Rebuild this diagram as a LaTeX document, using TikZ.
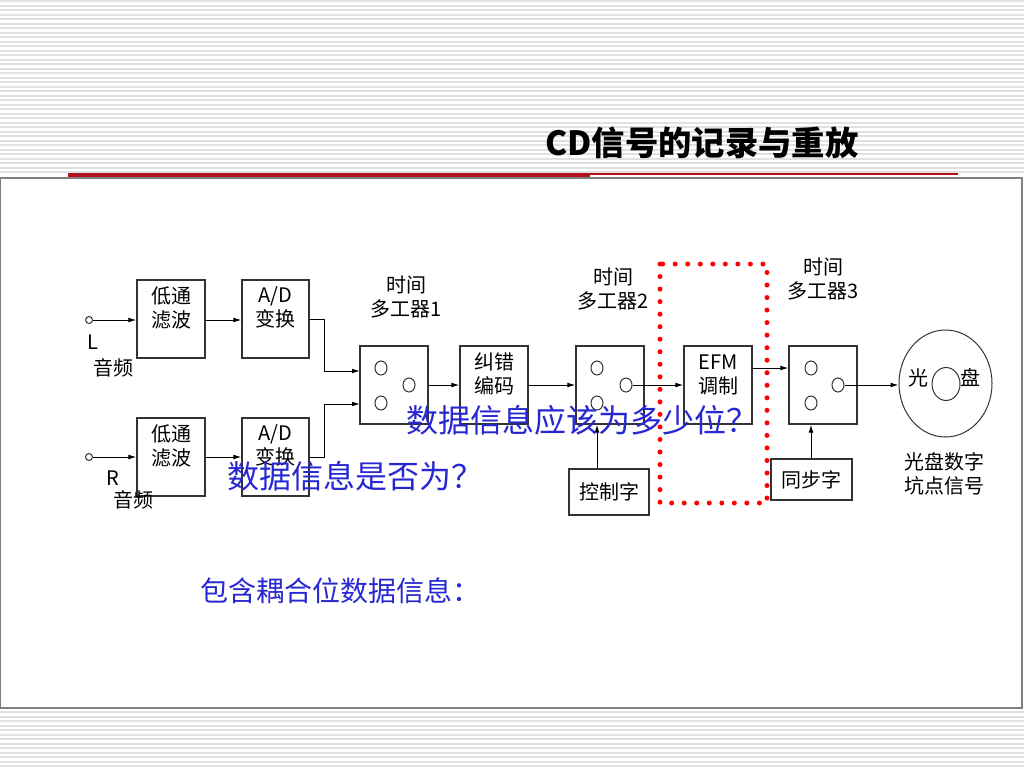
\documentclass[tikz,border=0pt]{standalone}
\usepackage{fontspec}
\setmainfont{Noto Sans CJK SC}
\usetikzlibrary{shapes.geometric,arrows.meta}
\definecolor{slidered}{RGB}{178,18,28}
\definecolor{noteblue}{RGB}{40,40,210}

\begin{document}
\begin{tikzpicture}[x=0.75pt,y=-0.75pt,>={Latex[length=6pt,width=3.6pt]}]

    \def\px{0.75pt}
    \def\bw{68}
    \def\bh{78}

    % Styles
    \tikzstyle{stripe}=[draw=black!12,line width=2*\px]
    \tikzstyle{blk}=[draw=black!80,line width=1.2*\px,minimum width=\bw*\px,minimum height=\bh*\px,inner sep=0pt]
    \tikzstyle{txt}=[inner sep=0pt,align=center,font=\fontsize{15}{18}\selectfont]
    \tikzstyle{port}=[ellipse,draw=black!80,line width=1*\px,minimum width=12*\px,minimum height=14*\px,inner sep=0pt]
    \tikzstyle{arr}=[->,line width=1*\px]
    \tikzstyle{hint}=[inner sep=0pt,text=noteblue,font=\fontsize{24}{28}\selectfont]
    \tikzstyle{dotbox}=[draw=red,line width=5*\px,dash pattern=on 0pt off 9.4pt,line cap=round]

    \useasboundingbox (0,0) rectangle (1024,768);

    % slide background
    \begin{scope}
    \foreach \y in {1,5.5,...,172} \draw[stripe] (0,\y) -- (1024,\y);
    \foreach \y in {712,716.5,...,768} \draw[stripe] (0,\y) -- (1024,\y);
    \draw[fill=white,draw=black!50,line width=1.5*\px] (0,178) rectangle (1022,708);
    \draw[slidered,line width=4*\px] (68,175) -- (590,175);
    \draw[slidered,line width=1.2*\px] (590,174) -- (958,174);
    \end{scope}

    % title
    \node (title) at (702,143) {\fontsize{25}{30}\selectfont\bfseries CD信号的记录与重放};

    % left channel
    \node[port,minimum width=7*\px,minimum height=7*\px] (inL) at (89,320) {};
    \node[blk] (lpfL) at (171,319) {};
    \node[txt,below=5pt] (tLpfL) at (lpfL.north) {低通\\滤波};
    \node[blk,minimum width=67*\px] (adL) at (275.5,319) {};
    \node[txt,below=5pt] (tAdL) at (adL.north) {A/D\\变换};
    \node[txt] (chL) at (93,342) {L};
    \node[txt] (auL) at (113,368) {音频};
    \draw[arr] (inL) -- (inL -| lpfL.west);
    \draw[arr] (lpfL.east |- inL) -- (adL.west |- inL);

    % right channel
    \node[port,minimum width=7*\px,minimum height=7*\px] (inR) at (89,457) {};
    \node[blk] (lpfR) at (171,457) {};
    \node[txt,below=5pt] (tLpfR) at (lpfR.north) {低通\\滤波};
    \node[blk,minimum width=67*\px] (adR) at (275.5,457) {};
    \node[txt,below=5pt] (tAdR) at (adR.north) {A/D\\变换};
    \node[txt] (chR) at (113,478) {R};
    \node[txt] (auR) at (133,500) {音频};
    \draw[arr] (inR) -- (inR -| lpfR.west);
    \draw[arr] (lpfR) -- (adR);

    % time multiplexer 1
    \node[blk] (mux1) at (394,385) {};
    \node[port] (m1a) at ([shift={(-13,-17)}]mux1.center) {};
    \node[port] (m1o) at ([shift={(15,0)}]mux1.center) {};
    \node[port] (m1b) at ([shift={(-13,18)}]mux1.center) {};
    \node[txt] (lMux1) at (406,297) {时间\\多工器1};
    \coordinate (m1inA) at (360,371);
    \coordinate (m1inB) at (360,404);
    \draw[arr] (adL.east) -- ++(15,0) |- (m1inA);
    \draw[arr] (adR.east) -- ++(15,0) |- (m1inB);

    % error correction coding
    \node[blk] (ecc) at (494,385) {};
    \node[txt,below=5pt] (tEcc) at (ecc.north) {纠错\\编码};
    \draw[arr] (mux1) -- (ecc);

    % time multiplexer 2
    \node[blk] (mux2) at (610,385) {};
    \node[port] (m2a) at ([shift={(-13,-17)}]mux2.center) {};
    \node[port] (m2o) at ([shift={(16,0)}]mux2.center) {};
    \node[port] (m2b) at ([shift={(-13,18)}]mux2.center) {};
    \node[txt] (lMux2) at (613,289) {时间\\多工器2};
    \node[draw=black!80,line width=1.2*\px,minimum width=80*\px,minimum height=46*\px,txt] (ctrl) at (609,492) {控制字};
    \draw[arr] (ecc) -- (mux2);
    \draw[arr] (ctrl.north -| m2b) -- (mux2.south -| m2b);

    % EFM modulation
    \node[blk] (efm) at (718,385) {};
    \node[txt,below=7pt] (tEfm) at (efm.north) {EFM\\调制};
    \draw[arr] (m2o) -- (efm.west |- m2o);

    % time multiplexer 3
    \node[blk] (mux3) at (823,385) {};
    \node[port] (m3a) at ([shift={(-12,-17)}]mux3.center) {};
    \node[port] (m3o) at ([shift={(15,0)}]mux3.center) {};
    \node[port] (m3b) at ([shift={(-12,18)}]mux3.center) {};
    \node[txt] (lMux3) at (823,279) {时间\\多工器3};
    \node[draw=black!80,line width=1.2*\px,minimum width=81*\px,minimum height=41*\px,txt] (sync) at (811.5,479.5) {同步字};
    \draw[arr] (efm.east |- m3a) -- (mux3.west |- m3a);
    \draw[arr] (sync.north -| m3b) -- (mux3.south -| m3b);

    % disc
    \node[ellipse,draw=black!80,line width=1*\px,minimum width=93*\px,minimum height=107*\px] (disk) at (945.5,383.5) {};
    \node[ellipse,draw=black!80,line width=1*\px,minimum width=28*\px,minimum height=33*\px] (hole) at (946,384) {};
    \node[txt] (dL) at (918,378) {光};
    \node[txt] (dR) at (970,378) {盘};
    \node[txt] (pits) at (944,474) {光盘数字\\坑点信号};
    \draw[arr] (m3o) -- (disk.west |- m3o);

    % EFM frame
    \draw[dotbox] (660,264) rectangle (767,503);

    % notes
    \node[hint] (q1) at (582,420) {数据信息应该为多少位？};
    \node[hint] (q2) at (355,476) {数据信息是否为？};
    \node[hint,font=\fontsize{21}{25}\selectfont] (q3) at (340,591) {包含耦合位数据信息：};

\end{tikzpicture}
\end{document}
